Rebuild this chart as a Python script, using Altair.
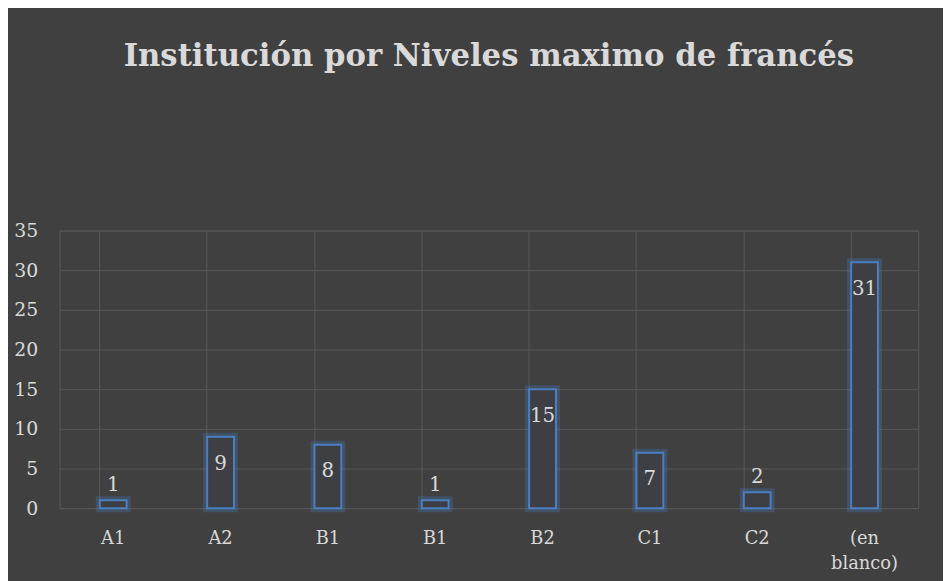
import json
import altair as alt
import pandas as pd

levels = ["A1", "A2", "B1", "B1", "B2", "C1", "C2", "(en blanco)"]
counts = [1, 9, 8, 1, 15, 7, 2, 31]
y_ticks = [0, 5, 10, 15, 20, 25, 30, 35]
title_text = "Institución por Niveles maximo de francés"

df = pd.DataFrame({"idx": list(range(len(levels))), "nivel": levels, "n": counts})

label_lines = [lv.split(" ") for lv in levels]
label_expr = json.dumps(label_lines) + "[datum.value]"

BG = "#404040"
GRID = "#585858"
TXT = "#d9d9d9"
BLUE = "#4a7fc1"
FONT = "DejaVu Serif"

x = alt.X("idx:O", sort=None, title=None,
          scale=alt.Scale(paddingInner=0.75, paddingOuter=0.375),
          axis=alt.Axis(labelExpr=label_expr, labelAngle=0, labelFontSize=18,
                        labelColor=TXT, labelFont=FONT, labelPadding=22,
                        ticks=False, domain=False, grid=True, gridColor=GRID,
                        bandPosition=0, labelLineHeight=25))
y = alt.Y("n:Q", title=None,
          scale=alt.Scale(domain=[0, 35], nice=False),
          axis=alt.Axis(values=y_ticks, labelFontSize=19, labelColor=TXT,
                        labelFont=FONT, labelPadding=22, ticks=False,
                        domain=False, gridColor=GRID))

base = alt.Chart(df).encode(x=x, y=y)

glow = base.mark_bar(fill="transparent", stroke=BLUE, strokeWidth=8,
                     strokeOpacity=0.3)
bars = base.mark_bar(fill="#3d3f43", stroke=BLUE, strokeWidth=2)
lab_in = base.transform_filter("datum.n >= 5").mark_text(
    baseline="middle", dy=27, fontSize=20, color=TXT, font=FONT
).encode(text="n:Q")
lab_out = base.transform_filter("datum.n < 5").mark_text(
    baseline="middle", dy=-15, fontSize=20, color=TXT, font=FONT
).encode(text="n:Q")

chart = alt.layer(glow, bars, lab_in, lab_out).properties(
    width=866, height=280,
    title=alt.TitleParams(title_text, fontSize=31, font=FONT, fontWeight="bold",
                          color=TXT, anchor="middle", offset=150),
    background=BG,
    padding={"left": 52, "top": 222, "right": 25, "bottom": 71},
    autosize=alt.AutoSizeParams(type="none"),
).configure_view(stroke=GRID)

chart.save("out.html", embed_options={"renderer": "svg", "actions": False})
